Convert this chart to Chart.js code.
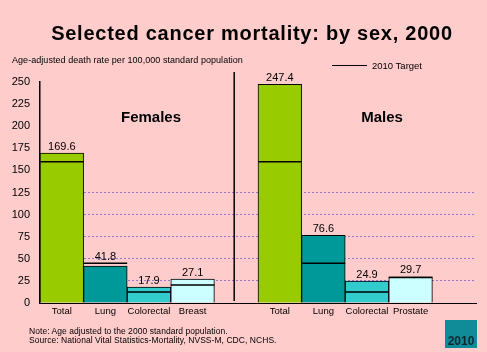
<!DOCTYPE html>
<html>
<head>
<meta charset="utf-8">
<script src="https://cdn.jsdelivr.net/npm/chart.js@4/dist/chart.umd.min.js"></script>
<style>
  html, body { margin: 0; padding: 0; background: #ffcccc; }
  #wrap { position: relative; width: 487px; height: 352px; background: #ffcccc; overflow: hidden;
          font-family: "Liberation Sans", Arial, sans-serif; color: #000; }
  #chart { position: absolute; left: 0; top: 0; }
  .txt { position: absolute; white-space: nowrap; line-height: 1; }
  #title { left: 0; width: 504px; top: 23px; text-align: center; font-size: 20px; font-weight: bold; letter-spacing: 0.75px; }
  #subtitle { left: 12px; top: 56px; font-size: 9px; letter-spacing: 0.05px; }
  #legendLine { position: absolute; left: 332px; top: 65px; width: 35px; height: 0; border-top: 1.5px solid #000; }
  #legendText { left: 372px; top: 61px; font-size: 9.5px; }
  .group { top: 109px; font-size: 15px; font-weight: bold; transform: translateX(-50%); }
  #note { left: 29px; top: 327px; font-size: 8.5px; letter-spacing: 0.05px; }
  #source { left: 29px; top: 336px; font-size: 8.5px; letter-spacing: 0.05px; }
  #logo { position: absolute; left: 445px; top: 320px; width: 32px; height: 28px; background: #0f8c98; }
  #logo span { position: absolute; left: 0; width: 32px; bottom: 0; text-align: center; font-size: 12px; font-weight: bold; color: #0b2a30; }
</style>
</head>
<body>
<div id="wrap">
  <canvas id="chart" width="487" height="352"></canvas>
  <div class="txt" id="title">Selected cancer mortality: by sex, 2000</div>
  <div class="txt" id="subtitle">Age-adjusted death rate per 100,000 standard population</div>
  <div id="legendLine"></div>
  <div class="txt" id="legendText">2010 Target</div>
  <div class="txt group" style="left:151px">Females</div>
  <div class="txt group" style="left:382px">Males</div>
  <div class="txt" id="note">Note: Age adjusted to the 2000 standard population.</div>
  <div class="txt" id="source">Source: National Vital Statistics-Mortality, NVSS-M, CDC, NCHS.</div>
  <div id="logo"><span>2010</span></div>
</div>
<script>
const femaleCategories = ['Total', 'Lung', 'Colorectal', 'Breast'];
const maleCategories = ['Total', 'Lung', 'Colorectal', 'Prostate'];
const femaleValues = [169.6, 41.8, 17.9, 27.1];
const maleValues = [247.4, 76.6, 24.9, 29.7];
const femaleTargets = [159.9, 44.9, 12.5, 20.5];
const maleTargets = [159.9, 44.9, 12.5, 28.8];
const yTicks = [0, 25, 50, 75, 100, 125, 150, 175, 200, 225, 250];
const gridValues = [25, 50, 75, 100, 125];

const barColors = ['#99cc00', '#009999', '#33cccc', '#ccffff'];

// one empty slot between the sexes and one after males
const labels = femaleCategories.concat([''], maleCategories, ['']);
const values = femaleValues.concat([null], maleValues, [null]);
const targets = femaleTargets.concat([null], maleTargets, [null]);
const colors = barColors.concat(['transparent'], barColors, ['transparent']);

const extras = {
  id: 'extras',
  afterDatasetsDraw(chart) {
    const ctx = chart.ctx;
    const meta = chart.getDatasetMeta(0);
    const y = chart.scales.y;
    const x = chart.scales.x;

    ctx.save();
    // target lines and value labels
    meta.data.forEach(function (bar, i) {
      if (values[i] == null) return;
      const half = bar.width / 2;
      const ty = y.getPixelForValue(targets[i]);
      ctx.strokeStyle = '#000';
      ctx.lineWidth = 1.5;
      ctx.beginPath();
      ctx.moveTo(bar.x - half, ty);
      ctx.lineTo(bar.x + half, ty);
      ctx.stroke();

      const top = y.getPixelForValue(Math.max(values[i], targets[i]));
      ctx.fillStyle = '#000';
      ctx.font = '11px "Liberation Sans", Arial, sans-serif';
      ctx.textAlign = 'center';
      ctx.textBaseline = 'bottom';
      ctx.fillText(values[i].toFixed(1), bar.x, top - 1);
    });

    // divider between females and males
    const dx = x.getPixelForValue(4) - 2;
    ctx.strokeStyle = '#000';
    ctx.lineWidth = 1.5;
    ctx.beginPath();
    ctx.moveTo(dx, 72);
    ctx.lineTo(dx, chart.chartArea.bottom - 2);
    ctx.stroke();
    ctx.restore();
  }
};

new Chart(document.getElementById('chart'), {
  type: 'bar',
  data: {
    labels: labels,
    datasets: [{
      data: values,
      backgroundColor: colors,
      borderColor: '#000',
      borderWidth: 1,
      barPercentage: 1,
      categoryPercentage: 1
    }]
  },
  options: {
    responsive: false,
    animation: false,
    devicePixelRatio: 1,
    layout: { padding: { top: 82, right: 11, bottom: 0, left: 0 } },
    plugins: { legend: { display: false }, tooltip: { enabled: false } },
    scales: {
      x: {
        afterFit: function (s) { s.height = 49; },
        grid: { display: false, drawTicks: false },
        border: { color: '#000', width: 1 },
        ticks: {
          color: '#000', padding: 3, maxRotation: 0, autoSkip: false,
          font: { family: '"Liberation Sans", Arial, sans-serif', size: 9.5 }
        }
      },
      y: {
        min: 0,
        max: 250,
        afterFit: function (s) { s.width = 40; },
        afterBuildTicks: function (s) { s.ticks = yTicks.map(v => ({ value: v })); },
        grid: {
          drawTicks: false,
          lineWidth: 1,
          color: function (c) {
            return c.tick && gridValues.indexOf(c.tick.value) >= 0 ? '#2828c0' : 'transparent';
          }
        },
        border: { color: '#000', width: 1.5, dash: [1, 3] },
        ticks: {
          color: '#000', padding: 10,
          font: { family: '"Liberation Sans", Arial, sans-serif', size: 11 }
        }
      }
    }
  },
  plugins: [extras]
});
</script>
</body>
</html>
